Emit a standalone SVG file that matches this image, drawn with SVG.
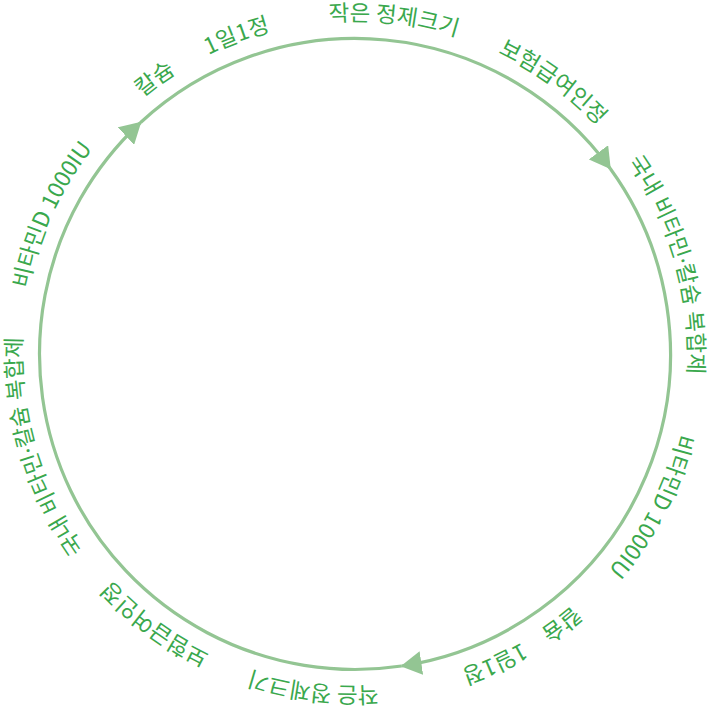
<svg xmlns="http://www.w3.org/2000/svg" xmlns:xlink="http://www.w3.org/1999/xlink" width="711" height="711" viewBox="0 0 711 711">
  <style>
    .ring { fill: none; stroke: #93c593; stroke-width: 3.2; }
    .lbl { font-family: "Noto Sans CJK KR", "Noto Sans", sans-serif; font-size: 22.5px; fill: #3aa84d; text-anchor: middle; }
    .mix { font-family: "Noto Sans", "Noto Sans CJK KR", sans-serif; }
  </style>
  <defs>
    <marker id="arr" viewBox="0 0 21 24" markerWidth="21" markerHeight="24" refX="20" refY="12" orient="auto" markerUnits="userSpaceOnUse">
      <path d="M0,0 L21,12 L0,24 Z" fill="#93c593"/>
    </marker>
    <path id="tp" d="M355,21 A333,333 0 1 1 355,687 A333,333 0 1 1 355,21 A333,333 0 1 1 355,687 A333,333 0 1 1 355,21"/>
  </defs>
  <rect width="711" height="711" fill="#ffffff"/>
  <g id="connectors">
    <path class="ring" d="M140.6,122.5 A315.5,315.5 0 0 1 610.2,168.5" marker-end="url(#arr)"/>
    <path class="ring" d="M610.2,168.5 A315.5,315.5 0 0 1 401.6,666.0" marker-end="url(#arr)"/>
    <path class="ring" d="M401.6,666.0 A315.5,315.5 0 0 1 140.6,122.5" marker-end="url(#arr)"/>
  </g>
  <g id="labels-top">
    <g id="n-calcium-1"><text class="lbl"><textPath href="#tp" startOffset="1882">칼슘</textPath></text></g>
    <g id="n-daily-1"><text class="lbl"><textPath href="#tp" startOffset="1973">1일1정</textPath></text></g>
    <g id="n-small-1"><text class="lbl"><textPath href="#tp" startOffset="2130">작은 정제크기</textPath></text></g>
    <g id="n-insurance-1"><text class="lbl"><textPath href="#tp" startOffset="2301">보험급여인정</textPath></text></g>
    <g id="n-domestic-1"><text class="lbl mix"><textPath href="#tp" startOffset="2522">국내 비타민·칼슘 복합제</textPath></text></g>
    <g id="n-vitd-1"><text class="lbl"><textPath href="#tp" startOffset="2772">비타민D 1000IU</textPath></text></g>
  </g>
  <g id="labels-bottom">
    <g id="n-calcium-2"><text class="lbl"><textPath href="#tp" startOffset="2920">칼슘</textPath></text></g>
    <g id="n-daily-2"><text class="lbl"><textPath href="#tp" startOffset="2996">1일1정</textPath></text></g>
    <g id="n-small-2"><text class="lbl"><textPath href="#tp" startOffset="1087">작은 정제크기</textPath></text></g>
    <g id="n-insurance-2"><text class="lbl"><textPath href="#tp" startOffset="1258">보험급여인정</textPath></text></g>
    <g id="n-domestic-2"><text class="lbl mix"><textPath href="#tp" startOffset="1473">국내 비타민·칼슘 복합제</textPath></text></g>
    <g id="n-vitd-2"><text class="lbl"><textPath href="#tp" startOffset="1712">비타민D 1000IU</textPath></text></g>
  </g>
</svg>
